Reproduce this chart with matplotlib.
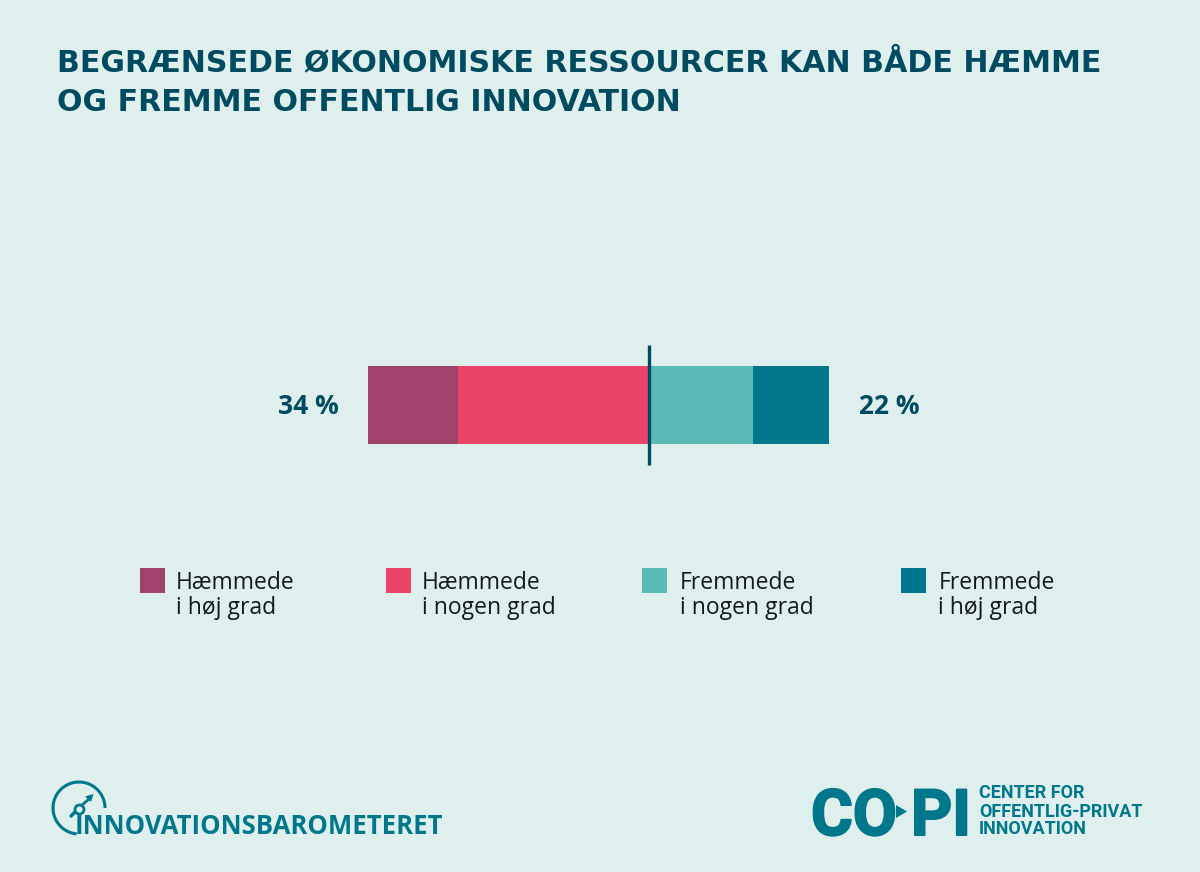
import matplotlib
matplotlib.use("Agg")
import matplotlib.pyplot as plt
import matplotlib.patheffects as pe
from matplotlib.patches import Rectangle, Arc, Polygon

W, H = 1200, 872
BG = "#DFEFED"
DARK = "#004B5F"
TEAL = "#00778B"
INK = "#14191C"
FONT = "Open Sans"

title_lines = ["BEGRÆNSEDE ØKONOMISKE RESSOURCER KAN BÅDE HÆMME",
               "OG FREMME OFFENTLIG INNOVATION"]
negative_labels = ["Hæmmede\ni høj grad", "Hæmmede\ni nogen grad"]
positive_labels = ["Fremmede\ni nogen grad", "Fremmede\ni høj grad"]
negative_values = [10.9, 23.1]  # outer -> inner
positive_values = [12.6, 9.2]   # inner -> outer
negative_colors = ["#A2426B", "#EA4469"]
positive_colors = ["#5ABBB6", "#00778B"]
negative_total = "34 %"
positive_total = "22 %"

fig = plt.figure(figsize=(W / 100, H / 100), dpi=100, facecolor=BG)

# overlay in pixel coordinates
pix = fig.add_axes([0, 0, 1, 1])
pix.set_xlim(0, W); pix.set_ylim(H, 0); pix.axis("off")

# bar
bar_left, bar_right, bar_top, bar_bottom = 368, 829.5, 366, 444
ax = fig.add_axes([bar_left / W, 1 - bar_bottom / H,
                   (bar_right - bar_left) / W, (bar_bottom - bar_top) / H])
ax.set_xlim(-sum(negative_values), sum(positive_values))
ax.set_ylim(-0.5, 0.5)
ax.axis("off")
start = -sum(negative_values)
for v, c in zip(negative_values + positive_values, negative_colors + positive_colors):
    ax.barh(0, v, left=start, height=1, color=c, linewidth=0)
    start += v
ax.axvline(0, ymin=-0.27, ymax=1.27, color=DARK, lw=2.4, clip_on=False, solid_capstyle="butt")

# totals
pix.text(339, 414, negative_total, ha="right", va="baseline", fontsize=19,
         fontweight="bold", color=DARK, family=FONT)
pix.text(859, 414, positive_total, ha="left", va="baseline", fontsize=19,
         fontweight="bold", color=DARK, family=FONT)

# title
for line, y in zip(title_lines, [71, 111]):
    pix.text(57, y, line, ha="left", va="baseline", fontsize=21.6, fontweight="bold",
             color=DARK, family="DejaVu Sans")

# legend
swatch_x = [140, 385.5, 641.5, 900.5]
text_x = [176, 421.5, 680, 938.5]
for sx, tx, lab, c in zip(swatch_x, text_x, negative_labels + positive_labels,
                          negative_colors + positive_colors):
    pix.add_patch(Rectangle((sx, 568), 25, 25, color=c, lw=0))
    a, b = lab.split("\n")
    pix.text(tx, 582.5, a, ha="left", va="center", fontsize=16.5, color=INK, family=FONT)
    pix.text(tx, 607.5, b, ha="left", va="center", fontsize=16.5, color=INK, family=FONT)

# Innovationsbarometeret logo
pix.add_patch(Arc((79, 808), 52, 52, theta1=95, theta2=360, color=TEAL, lw=2.2))
pix.plot([71, 76], [816, 811], color=TEAL, lw=2.5, solid_capstyle="round")
pix.plot([81.5, 89], [805.5, 799], color=TEAL, lw=2, solid_capstyle="butt")
pix.plot([78.5], [808.5], "o", ms=6.5, mfc=BG, mec=TEAL, mew=2)
pix.add_patch(Polygon([[93.5, 794], [85, 796.5], [91, 802]], color=TEAL, lw=0))
pix.text(75, 834, "INNOVATIONSBAROMETERET", ha="left", va="baseline", fontsize=18.5,
         fontweight="bold", color=TEAL, family=FONT)

# CO-PI logo
thick = [pe.withStroke(linewidth=1.5, foreground=TEAL)]
pix.text(811, 835, "CO", ha="left", va="baseline", fontsize=46, fontweight="bold",
         color=TEAL, family="Roboto", path_effects=thick)
pix.add_patch(Polygon([[896, 805], [907, 811.5], [896, 818]], color=TEAL, lw=0))
pix.text(911, 835, "PI", ha="left", va="baseline", fontsize=46, fontweight="bold",
         color=TEAL, family="Roboto", path_effects=thick)
for line, y in zip(["CENTER FOR", "OFFENTLIG-PRIVAT", "INNOVATION"], [798.3, 816.5, 834.3]):
    pix.text(979, y, line, ha="left", va="baseline", fontsize=13, fontweight="bold",
             color=TEAL, family="Roboto")

fig.savefig("out.png", dpi=100, facecolor=BG)
